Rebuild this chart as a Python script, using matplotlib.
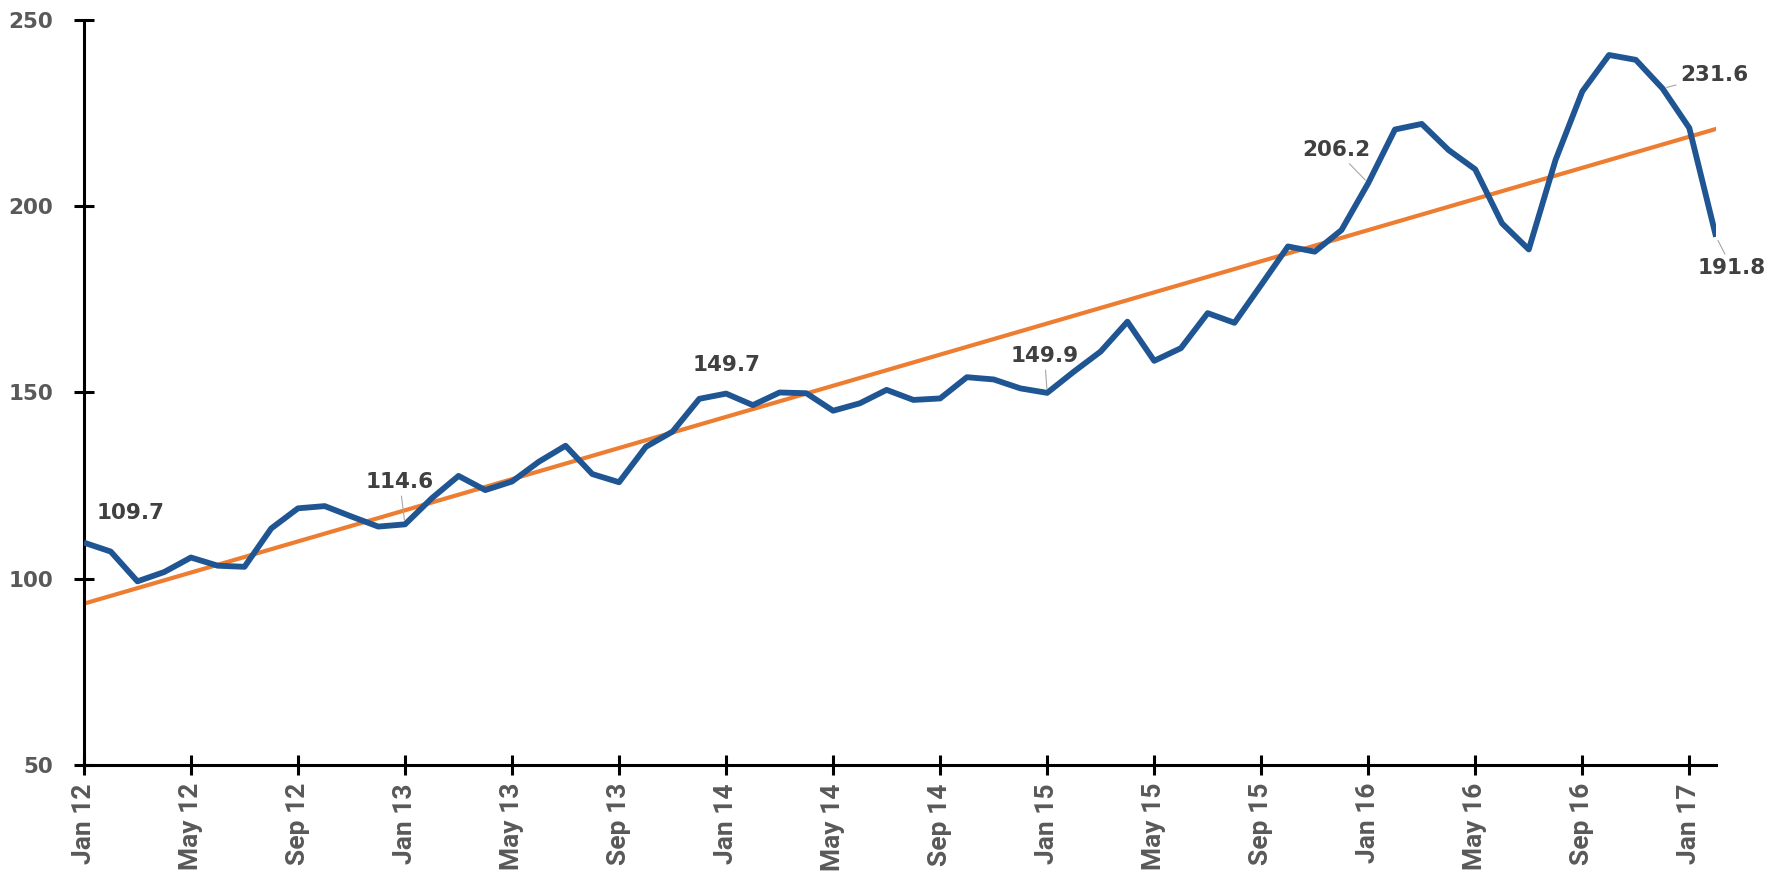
"""
Monthly index Jan 2012 - Feb 2017 with linear trend line
"""

import numpy as np
import matplotlib.pyplot as plt

# Monthly values, Jan 12 .. Feb 17
values_2012 = [109.7, 107.3, 99.3, 101.8, 105.7, 103.5, 103.2, 113.5, 118.9, 119.5, 116.7, 114.0]
values_2013 = [114.6, 121.6, 127.6, 123.8, 126.1, 131.4, 135.7, 128.1, 125.9, 135.4, 139.5, 148.3]
values_2014 = [149.7, 146.6, 150.0, 149.8, 145.1, 147.1, 150.7, 148.0, 148.4, 154.1, 153.5, 151.1]
values_2015 = [149.9, 155.6, 161.0, 169.0, 158.5, 161.9, 171.3, 168.7, 178.9, 189.2, 187.8, 193.6]
values_2016 = [206.2, 220.6, 222.1, 215.1, 209.9, 195.4, 188.4, 212.4, 230.8, 240.6, 239.3, 231.6]
values_2017 = [221.0, 191.8]

tick_labels = ['Jan 12', 'May 12', 'Sep 12', 'Jan 13', 'May 13', 'Sep 13', 'Jan 14', 'May 14',
               'Sep 14', 'Jan 15', 'May 15', 'Sep 15', 'Jan 16', 'May 16', 'Sep 16', 'Jan 17']

# Labelled points: (month index, label)
labelled = [(0, '109.7'), (12, '114.6'), (24, '149.7'), (36, '149.9'),
            (48, '206.2'), (59, '231.6'), (61, '191.8')]


def make_chart():
    values = np.array(values_2012 + values_2013 + values_2014 + values_2015 + values_2016 + values_2017)
    x = np.arange(len(values))

    fig = plt.figure(figsize=(17.82, 8.8), dpi=100)
    ax = fig.add_axes([0.0471, 0.1307, 0.9159, 0.8466])

    # Main series
    ax.plot(x, values, color='#1f5592', linewidth=4.2, solid_joinstyle='round',
            solid_capstyle='butt', zorder=3)

    # Linear trend
    slope, intercept = np.polyfit(x, values, 1)
    ax.plot(x, slope * x + intercept, color='#ed7d31', linewidth=3, zorder=2)

    # Data labels (text positions in data units)
    text_pos = {0: (0.49, 117.7, 'left'), 12: (11.8, 126.0, 'center'), 24: (24.0, 157.4, 'center'),
                36: (35.9, 159.8, 'center'), 48: (46.8, 215.1, 'center'),
                59: (59.66, 235.2, 'left'), 61: (61.6, 183.4, 'center')}
    leaders = {12, 36, 48, 59, 61}
    for idx, label in labelled:
        tx, ty, ha = text_pos[idx]
        arrow = None
        if idx in leaders:
            arrow = dict(arrowstyle='-', color='#a6a6a6', lw=0.8, shrinkA=1, shrinkB=3)
        ax.annotate(label, xy=(idx, values[idx]), xytext=(tx, ty), textcoords='data',
                    ha=ha, va='center', fontsize=15.5, fontweight='bold', color='#404040',
                    arrowprops=arrow, annotation_clip=False, zorder=4)

    # Axes styling
    ax.set_xlim(0, len(values) - 1)
    ax.set_ylim(50, 250)
    ax.set_yticks([50, 100, 150, 200, 250])
    ax.set_xticks(np.arange(0, len(values), 4))
    ax.set_xticklabels(tick_labels, rotation=90, fontsize=19, fontweight='bold',
                       color='#595959', family='Roboto')
    for lab in ax.get_yticklabels():
        lab.set_fontsize(15.5)
        lab.set_fontweight('bold')
        lab.set_color('#595959')

    for side in ['top', 'right']:
        ax.spines[side].set_visible(False)
    for side in ['left', 'bottom']:
        ax.spines[side].set_linewidth(2.2)
        ax.spines[side].set_color('black')
    ax.tick_params(axis='both', direction='inout', length=14, width=2.2, color='black')
    ax.tick_params(axis='y', pad=15)
    ax.tick_params(axis='x', pad=6)

    fig.savefig('out.png', dpi=100)
    print(f"slope={slope:.3f} intercept={intercept:.2f}")


if __name__ == "__main__":
    make_chart()
